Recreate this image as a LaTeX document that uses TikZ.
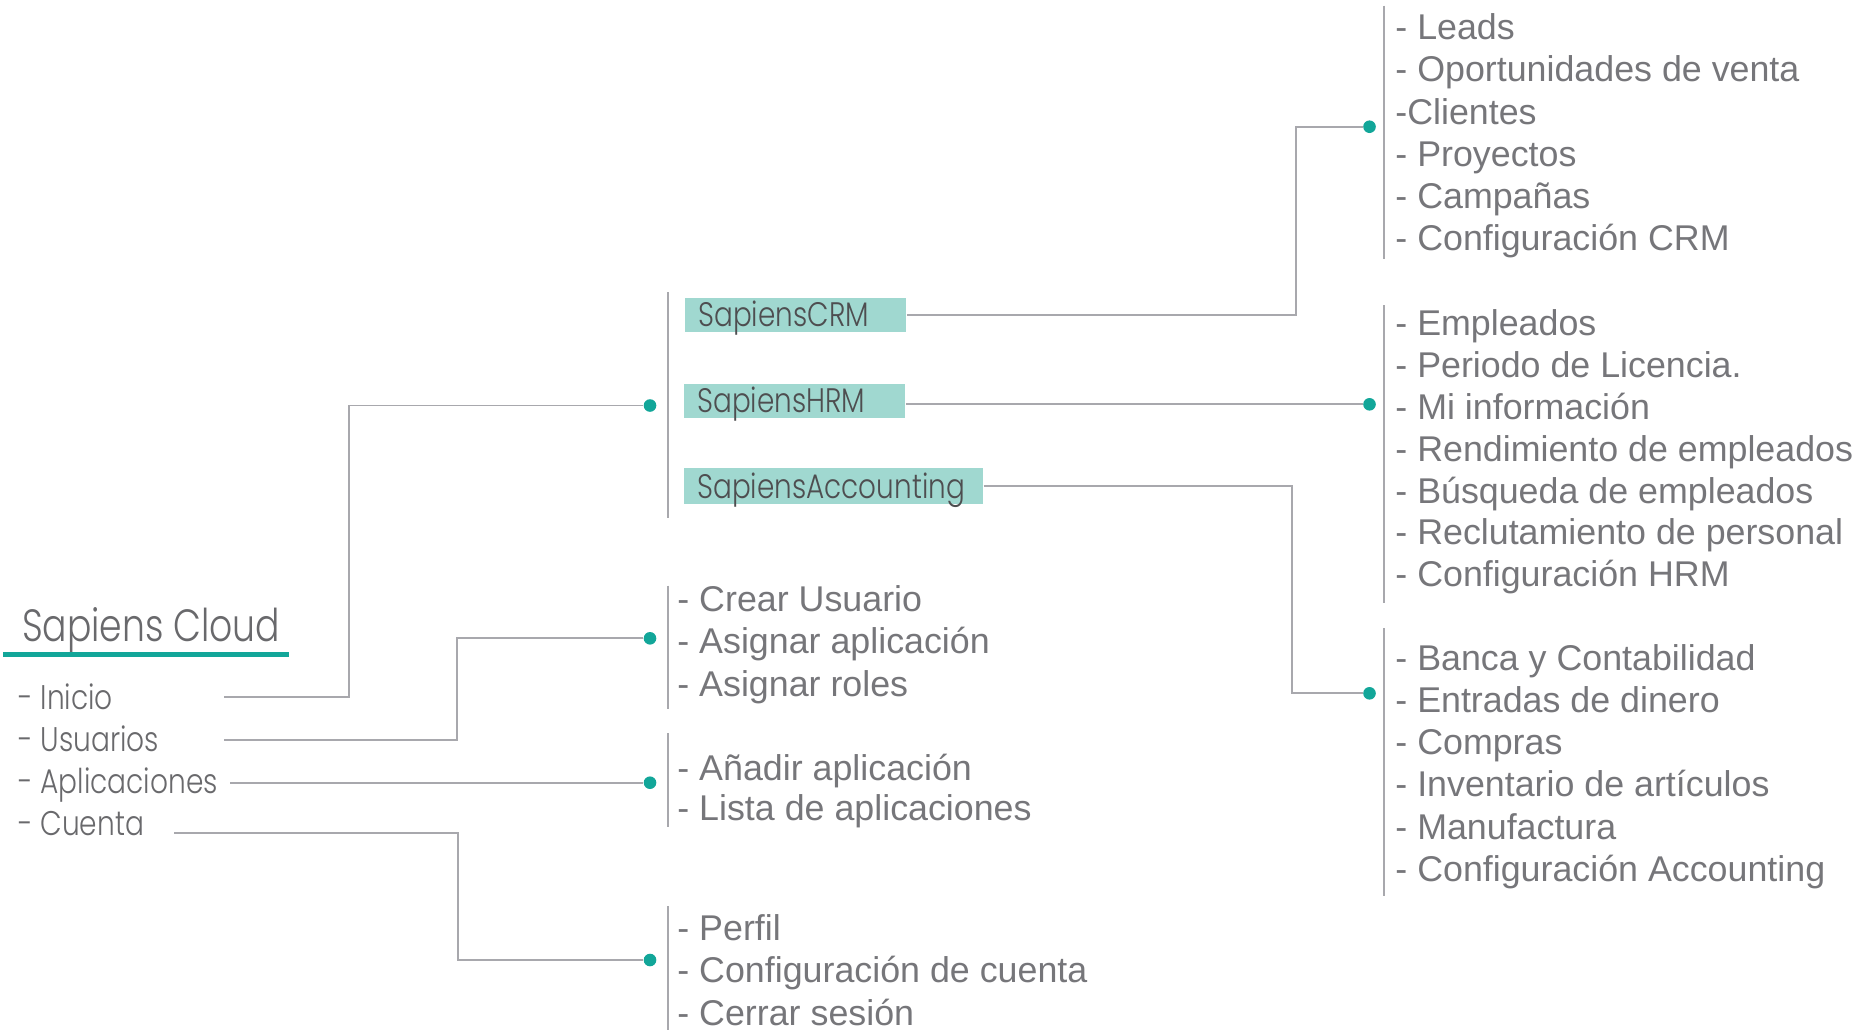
\documentclass[tikz,border=0pt]{standalone}
\usepackage{fontspec}
\setmainfont{Liberation Sans}
\newfontfamily\geofont[FakeStretch=0.82]{Poppins Light}
\newfontfamily\geotitle[FakeStretch=0.80]{Poppins Light}
\usepackage{tikz}
\usetikzlibrary{calc}
\definecolor{sapteal}{RGB}{18,166,153}
\definecolor{boxteal}{RGB}{160,216,208}
\definecolor{linegray}{RGB}{168,168,173}
\definecolor{textgray}{RGB}{118,118,122}
\definecolor{menugray}{RGB}{105,105,108}
\definecolor{boxtext}{RGB}{78,78,80}
\tikzset{
  listtext/.style={inner sep=0pt, anchor=base west, text=textgray, font=\fontsize{17.9}{21}\selectfont},
  menutext/.style={inner sep=0pt, anchor=base west, text=menugray, font=\geofont\fontsize{17.1}{20}\selectfont},
  titletext/.style={inner sep=0pt, anchor=base west, text=menugray, font=\geotitle\fontsize{22.6}{26}\selectfont},
  jointdot/.style={circle, fill=sapteal, inner sep=0pt, minimum size=6.3pt},
  barline/.style={draw=linegray, line width=1pt},
  link/.style={draw=linegray, line width=0.9pt},
  appfill/.style={fill=boxteal, anchor=west, inner xsep=6.5pt, inner ysep=0pt, align=left, text height=12pt, text depth=0pt, text=boxtext, font=\geofont\fontsize{17}{19}\selectfont}
}
\newcommand{\lablitem}[4]{\node[listtext] (#1) at (#2,#3) {#4};}
\newcommand{\lablmenu}[4]{\node[menutext] (#1) at (#2,#3) {#4};}
\newcommand{\joint}[3]{\node[jointdot] (#1) at (#2,#3) {};}
\newcommand{\branchbar}[3]{\draw[barline] (#1,#2) -- (#1,#3);}
\newcommand{\appbox}[6]{\node[appfill, text width=#4, minimum height=#5] (#1) at (#2,#3) {#6};}

\begin{document}
\begin{tikzpicture}[x=0.5pt,y=-0.5pt]
        \useasboundingbox (0,0) rectangle (1874,1030);

        % title
        \node[titletext] (cloud) at (21.7,641.7) {Sapiens Cloud};
        \draw[sapteal, line width=2.35pt] (3.3,654.3) -- (288.7,654.3);

        % left menu
        \lablmenu{inicio}{18}{709.3}{- Inicio}
        \lablmenu{usuarios}{18}{751.7}{- Usuarios}
        \lablmenu{aplic}{18}{793.3}{- Aplicaciones}
        \lablmenu{cuenta}{18}{835}{- Cuenta}
        \coordinate (inicioOut) at (224.3,697.3);
        \coordinate (usuariosOut) at (224.3,740);
        \coordinate (aplicOut) at (230,782.7);
        \coordinate (cuentaOut) at (174,832.7);

        % joints
        \joint{dotApps}{650}{405.5}
        \joint{dotUsuarios}{650}{638.3}
        \joint{dotAplic}{650}{782.7}
        \joint{dotCuenta}{650}{960}
        \joint{dotCRM}{1369.5}{126.7}
        \joint{dotHRM}{1369.5}{404.3}
        \joint{dotAcc}{1369.5}{693.3}

        % bars
        \branchbar{667.5}{292.3}{517.8}
        \branchbar{667.5}{585.5}{709}
        \branchbar{667.5}{733}{826.6}
        \branchbar{667.5}{906}{1030}
        \branchbar{1384.3}{5.7}{259.3}
        \branchbar{1384.3}{305}{603.3}
        \branchbar{1384.3}{628.3}{896}

        % apps
        \appbox{crm}{685}{314.7}{97.5pt}{17pt}{SapiensCRM}
        \appbox{hrm}{684}{400.8}{97.5pt}{16.85pt}{SapiensHRM}
        \appbox{acc}{684}{486}{136.35pt}{18.3pt}{SapiensAccounting}

        % connectors
        \draw[link] (inicioOut) -- ++(125,0) |- (dotApps);
        \draw[link] (usuariosOut) -- ++(233,0) |- (dotUsuarios);
        \draw[link] (aplicOut) -- (dotAplic);
        \draw[link] (cuentaOut) -- ++(284.3,0) |- (dotCuenta);
        \draw[link] (crm.east) -- ++(389,0) |- (dotCRM);
        \draw[link] (hrm.east |- dotHRM) -- (dotHRM);
        \draw[link] (acc.east) -- ++(308.3,0) |- (dotAcc);

        % usuarios
        \lablitem{crear}{677}{611.7}{- Crear Usuario}
        \lablitem{asigApp}{677}{653.3}{- Asignar aplicación}
        \lablitem{asigRol}{677}{696}{- Asignar roles}
        % aplicaciones
        \lablitem{anadir}{677}{780}{- Añadir aplicación}
        \lablitem{lista}{677}{820.7}{- Lista de aplicaciones}
        % cuenta
        \lablitem{perfil}{677}{940}{- Perfil}
        \lablitem{confCuenta}{677}{982.3}{- Configuración de cuenta}
        \lablitem{cerrar}{677}{1025}{- Cerrar sesión}

        % crm
        \lablitem{leads}{1395}{39.5}{- Leads}
        \lablitem{oport}{1395}{81.75}{- Oportunidades de venta}
        \lablitem{clientes}{1395}{124}{-Clientes}
        \lablitem{proy}{1395}{166.25}{- Proyectos}
        \lablitem{camp}{1395}{208.5}{- Campañas}
        \lablitem{confCRM}{1395}{250.75}{- Configuración CRM}
        % hrm
        \lablitem{empl}{1395}{335.7}{- Empleados}
        \lablitem{periodo}{1395}{377.5}{- Periodo de Licencia.}
        \lablitem{miInfo}{1395}{419.4}{- Mi información}
        \lablitem{rend}{1395}{461.2}{- Rendimiento de empleados}
        \lablitem{busq}{1395}{503}{- Búsqueda de empleados}
        \lablitem{reclut}{1395}{544.9}{- Reclutamiento de personal}
        \lablitem{confHRM}{1395}{586.7}{- Configuración HRM}
        % accounting
        \lablitem{banca}{1395}{670}{- Banca y Contabilidad}
        \lablitem{entradas}{1395}{712.3}{- Entradas de dinero}
        \lablitem{compras}{1395}{754.6}{- Compras}
        \lablitem{invent}{1395}{796.9}{- Inventario de artículos}
        \lablitem{manuf}{1395}{839.2}{- Manufactura}
        \lablitem{confAcc}{1395}{881.5}{- Configuración Accounting}
\end{tikzpicture}
\end{document}
